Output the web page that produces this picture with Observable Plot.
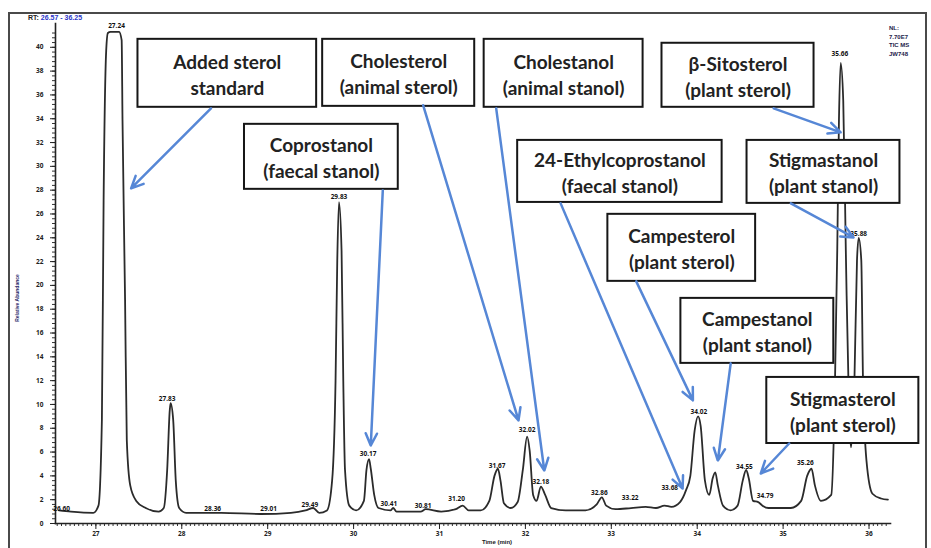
<!DOCTYPE html>
<html><head><meta charset="utf-8">
<script src="https://cdn.jsdelivr.net/npm/d3@7"></script>
<script src="https://cdn.jsdelivr.net/npm/@observablehq/plot@0.6"></script>
<style>
body{margin:0;background:#fff;}
#wrap{position:relative;width:931px;height:548px;overflow:hidden;font-family:"Liberation Sans",Arial,sans-serif;}
#chart{position:absolute;left:0;top:0;}
#frame{position:absolute;left:8px;top:12px;width:919px;height:545px;border:2px solid #4a4a4a;box-sizing:border-box;pointer-events:none;}
.tiny{position:absolute;font-weight:bold;white-space:nowrap;}
</style></head>
<body>
<div id="wrap">
  <div id="chart"></div>
  <div id="frame"></div>
  <div class="tiny" style="left:28px;top:14px;font-size:7px;color:#222">RT: <span style="color:#2a36c8">26.57 - 36.25</span></div>
  <div class="tiny" style="left:889px;top:24px;font-size:6px;line-height:8.5px;color:#1c1c4a">NL:<br>7.70E7<br>TIC MS<br>JW748</div>
  <div class="tiny" style="left:17px;top:298px;font-size:5px;color:#2a2a6a;transform:translate(-50%,-50%) rotate(-90deg)">Relative Abundance</div>
  <div class="tiny" style="left:497px;top:542px;font-size:6px;color:#222;transform:translate(-50%,-50%)">Time (min)</div>
</div>
<script>
// ---- chromatogram trace (retention time in min, relative abundance) ----
const traceTime = [26.57,26.71,26.97,27.03,27.07,27.09,27.12,27.14,27.17,27.27,27.30,27.31,27.34,27.36,27.40,27.47,27.58,27.73,27.79,27.83,27.86,27.87,27.90,27.93,27.97,28.05,28.46,28.92,29.27,29.44,29.53,29.60,29.69,29.75,29.79,29.81,29.83,29.86,29.88,29.90,29.95,30.03,30.12,30.15,30.18,30.20,30.24,30.29,30.43,30.46,30.50,30.78,30.84,31.02,31.19,31.27,31.34,31.48,31.58,31.64,31.68,31.71,31.75,31.83,31.91,31.97,32.02,32.05,32.09,32.13,32.18,32.23,32.30,32.47,32.70,32.83,32.89,32.94,33.05,33.23,33.40,33.52,33.62,33.70,33.80,33.87,33.92,33.97,34.01,34.04,34.09,34.14,34.18,34.21,34.24,34.30,34.39,34.47,34.53,34.57,34.60,34.65,34.71,34.76,34.83,35.09,35.21,35.28,35.33,35.37,35.44,35.56,35.60,35.63,35.65,35.67,35.70,35.73,35.77,35.79,35.83,35.86,35.88,35.91,35.93,35.97,36.04,36.14,36.22];
const traceIntensity = [1.1,1.0,0.9,1.5,8.7,27.1,39.7,41.2,41.3,41.3,40.6,33.9,18.7,7.0,3.2,1.9,1.3,1.0,1.3,4.5,9.5,10.1,8.7,3.6,1.3,0.9,0.9,0.8,0.9,1.1,1.3,0.9,1.1,3.6,12.0,22.1,27.0,22.9,12.0,4.5,1.5,1.1,1.9,4.5,5.4,4.6,2.4,1.3,1.1,1.3,1.0,1.0,1.2,1.0,1.2,1.5,1.1,1.1,1.9,4.0,4.6,3.6,1.7,1.3,1.8,4.5,7.3,6.1,2.4,1.9,3.1,2.4,1.3,1.1,1.1,1.6,2.2,1.5,1.2,1.3,1.4,1.3,1.5,1.4,1.8,2.8,4.0,7.8,9.0,8.2,3.6,2.4,3.8,4.3,3.2,1.5,1.1,1.5,3.6,4.5,3.8,1.9,1.8,1.5,1.3,1.3,1.9,4.0,4.6,3.2,1.9,2.4,10.3,22.9,33.9,38.7,35.5,22.9,8.7,6.4,12.0,22.1,24.0,22.1,12.0,5.3,2.5,2.1,2.0];

// ---- peak retention-time labels ----
const peakRT = [26.60,27.24,27.83,28.36,29.01,29.49,29.83,30.17,30.41,30.81,31.20,31.67,32.02,32.18,32.86,33.22,33.68,34.02,34.55,34.79,35.26,35.66,35.88];
const peakLabelHeight = [1.0,41.5,10.2,1.0,1.0,1.3,27.2,5.6,1.4,1.2,1.8,4.6,7.6,3.2,2.3,1.9,2.7,9.1,4.5,2.1,4.8,39.2,24.1];

// ---- tick labels ----
const xTickLabels = [27,28,29,30,31,32,33,34,35,36];
const yTickLabels = [0,2,4,6,8,10,12,14,16,18,20,22,24,26,28,30,32,34,36,38,40];

// ---- annotation callouts ----
const noteLine1 = ["Added sterol","Cholesterol","Cholestanol","\u03B2-Sitosterol","Coprostanol","24-Ethylcoprostanol","Stigmastanol","Campesterol","Campestanol","Stigmasterol"];
const noteLine2 = ["standard","(animal sterol)","(animal stanol)","(plant sterol)","(faecal stanol)","(faecal stanol)","(plant stanol)","(plant sterol)","(plant stanol)","(plant sterol)"];
const noteTimeStart = [27.49,29.64,31.52,33.59,28.73,31.91,34.58,32.96,33.81,34.81];
const noteTimeEnd   = [29.57,31.41,33.37,35.36,30.52,34.29,36.36,34.68,35.59,36.58];
const noteValueTop    = [40.67,40.67,40.67,40.34,33.53,32.18,32.18,25.97,18.91,12.27];
const noteValueBottom = [34.96,35.04,34.96,34.96,28.07,26.97,26.89,20.34,13.45,6.72];
const arrowFromTime  = [28.34,30.81,31.66,34.89,30.34,32.41,35.09,33.29,34.39,35.07];
const arrowFromValue = [34.87,35.13,34.87,34.87,27.98,26.89,26.89,20.34,13.45,6.72];
const arrowToTime    = [27.41,31.92,32.22,35.67,30.20,33.83,35.82,33.95,34.24,34.74];
const arrowToValue   = [28.15,8.66,4.45,32.86,6.55,2.94,24.03,10.34,5.29,4.20];

const trace = traceTime.map((t, i) => ({t, v: traceIntensity[i]}));
const peaks = peakRT.map((rt, i) => ({rt, h: peakLabelHeight[i]}));
const notes = noteLine1.map((l1, i) => ({
  l1, l2: noteLine2[i], t1: noteTimeStart[i], t2: noteTimeEnd[i], v1: noteValueBottom[i], v2: noteValueTop[i]
}));
const arrows = arrowFromTime.map((t, i) => ({
  t1: t, v1: arrowFromValue[i], t2: arrowToTime[i], v2: arrowToValue[i]
}));

const xMinor = d3.range(26.55, 36.25, 0.05);
const yMinor = d3.range(0, 41.3, 0.4);

const chart = Plot.plot({
  width: 931,
  height: 548,
  marginLeft: 55,
  marginRight: 41,
  marginTop: 23,
  marginBottom: 25,
  style: {background: "transparent", overflow: "visible"},
  x: {domain: [26.53, 36.25], label: null},
  y: {domain: [0, 42], label: null},
  marks: [
    Plot.axisX({ticks: xMinor, tickSize: 3, tickFormat: () => "", stroke: "#333"}),
    Plot.axisX({ticks: xTickLabels, tickSize: 6, tickPadding: 2, fontSize: 6.5, fontWeight: "bold", fill: "#222", stroke: "#222", tickFormat: d3.format("d")}),
    Plot.axisY({ticks: yMinor, tickSize: 3, tickFormat: () => "", stroke: "#333"}),
    Plot.axisY({ticks: yTickLabels, tickSize: 5, tickPadding: 7, fontSize: 6.5, fontWeight: "bold", fill: "#222", stroke: "#222", tickFormat: d3.format("d")}),
    Plot.frame({anchor: "left", stroke: "#222", strokeWidth: 1.6}),
    Plot.frame({anchor: "bottom", stroke: "#222", strokeWidth: 1.6}),
    Plot.line(trace, {x: "t", y: "v", stroke: "#2b2b2b", strokeWidth: 1.8, curve: "monotone-x"}),
    Plot.text(peaks, {x: "rt", y: "h", text: d => d.rt.toFixed(2), fontSize: 6.5, fontWeight: "bold", fill: "#111", lineAnchor: "bottom", dy: -1}),
    Plot.rect(notes, {x1: "t1", x2: "t2", y1: "v1", y2: "v2", fill: "white", stroke: "#161616", strokeWidth: 2}),
    Plot.text(notes, {x: d => (d.t1 + d.t2) / 2, y: d => (d.v1 + d.v2) / 2, text: d => d.l1 + "\n" + d.l2,
      fontSize: 19, fontWeight: "bold", fontFamily: "Lato", lineHeight: 1.38, fill: "#222"}),
    Plot.arrow(arrows, {x1: "t1", y1: "v1", x2: "t2", y2: "v2", stroke: "#5687d6", strokeWidth: 2.5, headLength: 8, headAngle: 50})
  ]
});
document.getElementById("chart").appendChild(chart);
</script>
</body></html>
